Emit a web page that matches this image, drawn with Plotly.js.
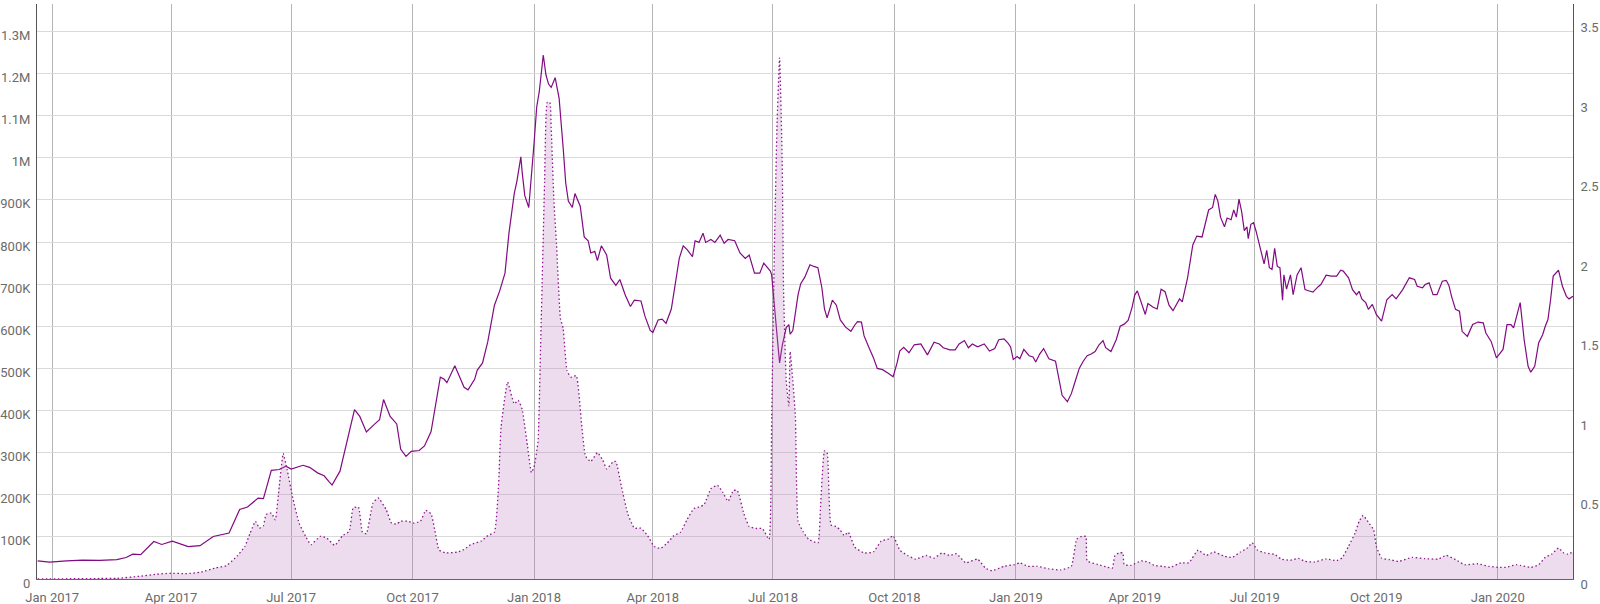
<!DOCTYPE html>
<html>
<head>
<meta charset="utf-8">
<script src="https://cdn.plot.ly/plotly-3.0.1.min.js"></script>
<style>html,body{margin:0;padding:0;background:#fff;}#chart{width:1600px;height:604px;}</style>
</head>
<body>
<div id="chart"></div>
<script>
// Solid line series (left axis)
const lineDates = ["2016-12-21","2016-12-30","2017-01-12","2017-01-24","2017-02-06","2017-02-19","2017-02-26","2017-03-03","2017-03-09","2017-03-19","2017-03-25","2017-04-02","2017-04-14","2017-04-23","2017-05-03","2017-05-15","2017-05-23","2017-05-29","2017-06-06","2017-06-10","2017-06-16","2017-06-22","2017-06-27","2017-07-01","2017-07-10","2017-07-15","2017-07-21","2017-07-26","2017-07-30","2017-08-01","2017-08-07","2017-08-13","2017-08-18","2017-08-22","2017-08-27","2017-09-02","2017-09-06","2017-09-09","2017-09-14","2017-09-19","2017-09-20","2017-09-22","2017-09-26","2017-09-30","2017-10-06","2017-10-10","2017-10-15","2017-10-19","2017-10-22","2017-10-25","2017-10-27","2017-11-02","2017-11-06","2017-11-09","2017-11-12","2017-11-17","2017-11-19","2017-11-23","2017-11-27","2017-12-02","2017-12-06","2017-12-10","2017-12-13","2017-12-17","2017-12-19","2017-12-22","2017-12-23","2017-12-25","2017-12-28","2017-12-30","2018-01-01","2018-01-03","2018-01-05","2018-01-08","2018-01-10","2018-01-12","2018-01-14","2018-01-17","2018-01-20","2018-01-23","2018-01-25","2018-01-27","2018-01-30","2018-02-01","2018-02-05","2018-02-08","2018-02-11","2018-02-13","2018-02-16","2018-02-18","2018-02-21","2018-02-25","2018-02-28","2018-03-04","2018-03-07","2018-03-11","2018-03-15","2018-03-18","2018-03-23","2018-03-26","2018-03-30","2018-04-01","2018-04-05","2018-04-08","2018-04-11","2018-04-15","2018-04-18","2018-04-21","2018-04-24","2018-04-27","2018-05-01","2018-05-03","2018-05-06","2018-05-09","2018-05-11","2018-05-15","2018-05-18","2018-05-22","2018-05-25","2018-05-28","2018-06-02","2018-06-06","2018-06-10","2018-06-13","2018-06-17","2018-06-21","2018-06-24","2018-06-29","2018-06-30","2018-07-02","2018-07-04","2018-07-06","2018-07-08","2018-07-11","2018-07-13","2018-07-14","2018-07-16","2018-07-20","2018-07-22","2018-07-25","2018-07-29","2018-08-01","2018-08-04","2018-08-07","2018-08-09","2018-08-11","2018-08-15","2018-08-18","2018-08-21","2018-08-25","2018-08-29","2018-09-01","2018-09-03","2018-09-06","2018-09-08","2018-09-12","2018-09-15","2018-09-18","2018-09-22","2018-09-26","2018-09-30","2018-10-03","2018-10-05","2018-10-08","2018-10-12","2018-10-16","2018-10-21","2018-10-26","2018-10-31","2018-11-04","2018-11-07","2018-11-12","2018-11-16","2018-11-19","2018-11-23","2018-11-26","2018-11-29","2018-12-03","2018-12-08","2018-12-12","2018-12-16","2018-12-19","2018-12-23","2018-12-26","2018-12-28","2018-12-30","2019-01-02","2019-01-04","2019-01-07","2019-01-11","2019-01-14","2019-01-16","2019-01-19","2019-01-22","2019-01-26","2019-01-31","2019-02-03","2019-02-05","2019-02-09","2019-02-12","2019-02-15","2019-02-18","2019-02-21","2019-02-24","2019-02-27","2019-03-02","2019-03-05","2019-03-08","2019-03-10","2019-03-14","2019-03-18","2019-03-21","2019-03-24","2019-03-27","2019-03-30","2019-04-01","2019-04-03","2019-04-06","2019-04-09","2019-04-11","2019-04-15","2019-04-18","2019-04-21","2019-04-24","2019-04-27","2019-04-30","2019-05-05","2019-05-07","2019-05-11","2019-05-15","2019-05-18","2019-05-22","2019-05-24","2019-05-27","2019-05-30","2019-06-01","2019-06-03","2019-06-05","2019-06-08","2019-06-10","2019-06-13","2019-06-15","2019-06-17","2019-06-19","2019-06-21","2019-06-23","2019-06-25","2019-06-26","2019-06-28","2019-06-30","2019-07-02","2019-07-04","2019-07-06","2019-07-08","2019-07-10","2019-07-12","2019-07-14","2019-07-16","2019-07-18","2019-07-20","2019-07-22","2019-07-23","2019-07-25","2019-07-28","2019-07-30","2019-08-02","2019-08-05","2019-08-07","2019-08-08","2019-08-10","2019-08-14","2019-08-18","2019-08-20","2019-08-24","2019-08-28","2019-09-01","2019-09-04","2019-09-06","2019-09-10","2019-09-13","2019-09-16","2019-09-18","2019-09-20","2019-09-23","2019-09-25","2019-09-28","2019-10-01","2019-10-05","2019-10-09","2019-10-13","2019-10-16","2019-10-21","2019-10-26","2019-10-30","2019-11-01","2019-11-05","2019-11-07","2019-11-10","2019-11-13","2019-11-16","2019-11-20","2019-11-23","2019-11-25","2019-11-27","2019-11-30","2019-12-03","2019-12-05","2019-12-09","2019-12-13","2019-12-17","2019-12-21","2019-12-23","2019-12-27","2019-12-31","2020-01-05","2020-01-08","2020-01-11","2020-01-13","2020-01-18","2020-01-21","2020-01-24","2020-01-26","2020-01-29","2020-02-01","2020-02-04","2020-02-06","2020-02-08","2020-02-10","2020-02-12","2020-02-16","2020-02-19","2020-02-22","2020-02-24","2020-02-27"];
const lineValuesK = [43,40,43,45,44,46,51,59,58,89,82,90,77,79,101,109,165,171,192,191,258,260,268,261,270,265,252,245,230,223,256,339,402,386,349,367,378,426,386,368,346,308,291,303,305,316,350,419,479,474,466,506,479,455,449,474,496,513,564,650,684,726,821,915,944,1002,966,910,882,949,1034,1120,1158,1244,1197,1175,1167,1190,1141,1026,940,897,882,915,885,812,803,774,778,756,791,769,714,697,711,675,647,662,660,624,590,585,615,617,607,641,701,761,791,782,765,803,799,821,799,806,799,816,797,806,803,774,761,769,726,726,750,731,722,641,581,513,554,597,604,581,590,675,701,716,746,742,739,692,641,620,662,650,615,598,588,603,611,610,577,547,526,500,497,489,480,513,541,550,537,556,558,532,562,558,549,544,544,558,566,549,558,551,558,541,547,568,570,560,551,521,528,523,545,530,527,515,534,547,523,517,470,436,421,440,470,500,517,530,534,540,556,566,549,540,568,600,605,614,645,674,684,654,628,654,645,641,688,682,650,637,665,658,714,793,814,812,838,876,882,913,897,859,836,857,853,876,859,902,872,827,836,808,842,846,825,799,778,748,780,739,735,785,742,739,662,722,688,722,675,722,739,705,687,685,681,694,699,721,719,719,733,731,715,687,675,683,665,656,640,652,628,612,663,675,665,687,715,711,695,691,699,703,675,675,707,709,697,671,640,636,588,576,604,610,608,584,564,525,545,604,604,596,656,568,505,491,505,561,580,600,616,663,719,733,695,671,665,671];

// Dotted area series (right axis)
const areaDates = ["2016-12-21","2017-02-06","2017-02-19","2017-03-08","2017-03-21","2017-03-31","2017-04-13","2017-04-23","2017-05-05","2017-05-13","2017-05-21","2017-05-27","2017-05-31","2017-06-04","2017-06-07","2017-06-10","2017-06-12","2017-06-16","2017-06-19","2017-06-22","2017-06-25","2017-06-28","2017-07-02","2017-07-07","2017-07-12","2017-07-16","2017-07-23","2017-07-28","2017-08-03","2017-08-09","2017-08-14","2017-08-17","2017-08-21","2017-08-24","2017-08-27","2017-09-01","2017-09-05","2017-09-11","2017-09-15","2017-09-19","2017-09-22","2017-09-27","2017-10-02","2017-10-07","2017-10-11","2017-10-15","2017-10-18","2017-10-21","2017-10-26","2017-11-04","2017-11-09","2017-11-14","2017-11-22","2017-11-27","2017-12-02","2017-12-05","2017-12-07","2017-12-12","2017-12-17","2017-12-20","2017-12-23","2017-12-27","2017-12-30","2018-01-01","2018-01-04","2018-01-06","2018-01-09","2018-01-11","2018-01-13","2018-01-14","2018-01-16","2018-01-18","2018-01-21","2018-01-23","2018-01-26","2018-01-29","2018-02-02","2018-02-06","2018-02-09","2018-02-13","2018-02-18","2018-02-22","2018-02-25","2018-03-02","2018-03-04","2018-03-08","2018-03-13","2018-03-18","2018-03-23","2018-03-28","2018-04-02","2018-04-07","2018-04-12","2018-04-17","2018-04-22","2018-04-27","2018-05-02","2018-05-07","2018-05-10","2018-05-15","2018-05-20","2018-05-24","2018-05-28","2018-06-01","2018-06-04","2018-06-09","2018-06-13","2018-06-18","2018-06-23","2018-06-28","2018-06-30","2018-07-02","2018-07-04","2018-07-06","2018-07-08","2018-07-09","2018-07-11","2018-07-13","2018-07-14","2018-07-16","2018-07-18","2018-07-20","2018-07-24","2018-07-28","2018-08-04","2018-08-06","2018-08-09","2018-08-11","2018-08-14","2018-08-18","2018-08-21","2018-08-24","2018-08-27","2018-09-01","2018-09-08","2018-09-15","2018-09-21","2018-09-26","2018-09-30","2018-10-05","2018-10-11","2018-10-17","2018-10-25","2018-10-31","2018-11-06","2018-11-12","2018-11-17","2018-11-24","2018-12-03","2018-12-09","2018-12-14","2018-12-23","2018-12-31","2019-01-04","2019-01-10","2019-01-17","2019-01-26","2019-02-04","2019-02-12","2019-02-16","2019-02-19","2019-02-23","2019-02-24","2019-03-04","2019-03-11","2019-03-15","2019-03-17","2019-03-20","2019-03-23","2019-03-24","2019-03-29","2019-04-06","2019-04-11","2019-04-16","2019-04-22","2019-04-28","2019-05-06","2019-05-12","2019-05-19","2019-05-25","2019-05-31","2019-06-08","2019-06-14","2019-06-20","2019-06-25","2019-06-29","2019-07-03","2019-07-09","2019-07-16","2019-07-21","2019-07-28","2019-08-03","2019-08-08","2019-08-15","2019-08-24","2019-09-01","2019-09-05","2019-09-10","2019-09-15","2019-09-18","2019-09-21","2019-09-25","2019-09-29","2019-10-01","2019-10-05","2019-10-11","2019-10-18","2019-10-28","2019-11-07","2019-11-17","2019-11-23","2019-11-30","2019-12-07","2019-12-17","2019-12-25","2020-01-02","2020-01-07","2020-01-15","2020-01-18","2020-01-26","2020-02-01","2020-02-06","2020-02-11","2020-02-16","2020-02-20","2020-02-23","2020-02-27"];
const areaValues = [0,0.003,0.004,0.017,0.03,0.036,0.034,0.042,0.07,0.084,0.143,0.206,0.29,0.363,0.32,0.336,0.405,0.415,0.373,0.583,0.79,0.688,0.52,0.352,0.268,0.216,0.268,0.258,0.212,0.273,0.3,0.447,0.453,0.294,0.285,0.478,0.51,0.436,0.352,0.346,0.364,0.364,0.352,0.364,0.432,0.41,0.3,0.182,0.164,0.17,0.186,0.216,0.239,0.273,0.295,0.568,0.955,1.239,1.102,1.125,1.068,0.84,0.67,0.705,0.864,1.477,2.5,3.0,3.0,2.84,2.39,2.11,1.64,1.58,1.31,1.27,1.28,0.977,0.773,0.739,0.795,0.75,0.693,0.739,0.739,0.59,0.41,0.32,0.32,0.273,0.205,0.193,0.227,0.273,0.295,0.375,0.443,0.455,0.47,0.568,0.59,0.545,0.489,0.557,0.557,0.41,0.33,0.318,0.318,0.25,1.02,2.05,2.84,3.28,2.61,1.82,1.25,1.09,1.43,1.25,1.02,0.364,0.295,0.25,0.227,0.455,0.807,0.795,0.34,0.33,0.307,0.273,0.295,0.2,0.164,0.17,0.239,0.25,0.273,0.182,0.148,0.125,0.148,0.132,0.164,0.148,0.159,0.102,0.125,0.068,0.052,0.08,0.091,0.102,0.08,0.08,0.064,0.057,0.08,0.25,0.266,0.268,0.114,0.091,0.075,0.068,0.148,0.164,0.164,0.091,0.086,0.114,0.107,0.085,0.08,0.073,0.102,0.102,0.182,0.148,0.17,0.143,0.136,0.17,0.193,0.227,0.182,0.164,0.155,0.125,0.118,0.13,0.111,0.107,0.126,0.115,0.132,0.206,0.29,0.363,0.4,0.357,0.31,0.206,0.132,0.122,0.111,0.136,0.128,0.126,0.149,0.122,0.09,0.096,0.08,0.073,0.073,0.09,0.086,0.073,0.09,0.136,0.157,0.195,0.164,0.157,0.17];

// Tick labels
const leftTickVals = [0,100000,200000,300000,400000,500000,600000,700000,800000,900000,1000000,1100000,1200000,1300000];
const leftTickText = ["0","100K","200K","300K","400K","500K","600K","700K","800K","900K","1M","1.1M","1.2M","1.3M"];
const rightTickVals = [0,0.5,1,1.5,2,2.5,3,3.5];
const rightTickText = ["0","0.5","1","1.5","2","2.5","3","3.5"];

const lineValues = lineValuesK.map(v => v * 1000);
const fontFam = "Roboto, 'Noto Sans', sans-serif";
const tickFont = {family: fontFam, size: 13, color: '#6b6b6b'};

const traces = [
  {
    x: areaDates, y: areaValues, yaxis: 'y2', type: 'scatter', mode: 'lines',
    line: {color: '#8b1a8b', width: 1.3, dash: '1.5px,2.5px', shape: 'spline', smoothing: 0.4},
    fill: 'tozeroy', fillcolor: 'rgba(180,120,190,0.26)',
    hoverinfo: 'skip', showlegend: false
  },
  {
    x: lineDates, y: lineValues, type: 'scatter', mode: 'lines',
    line: {color: '#820a82', width: 1.2},
    hoverinfo: 'skip', showlegend: false
  }
];

const layout = {
  width: 1600, height: 604,
  margin: {l: 37, r: 27, t: 4, b: 25, pad: 0},
  paper_bgcolor: '#ffffff', plot_bgcolor: '#ffffff',
  showlegend: false,
  xaxis: {
    type: 'date', range: ['2016-12-20 12:00', '2020-02-27'],
    tick0: '2017-01-01', dtick: 'M3', tickformat: '%b %Y',
    showgrid: true, gridcolor: '#b4b4b4', gridwidth: 1,
    showline: true, linecolor: '#666666', linewidth: 1,
    ticks: '', tickfont: tickFont, ticklabelstandoff: 6,
    zeroline: false, fixedrange: true
  },
  yaxis: {
    range: [0, 1365000], tickvals: leftTickVals, ticktext: leftTickText,
    showgrid: true, gridcolor: '#dadada', gridwidth: 1,
    showline: true, linecolor: '#555555', linewidth: 1,
    ticks: '', tickfont: tickFont, zeroline: false,
    ticklabelshift: 4, ticklabelstandoff: 3, fixedrange: true
  },
  yaxis2: {
    overlaying: 'y', side: 'right',
    range: [0, 3.619], tickvals: rightTickVals, ticktext: rightTickText,
    showgrid: false, showline: true, linecolor: '#555555', linewidth: 1,
    ticks: '', tickfont: tickFont, zeroline: false,
    ticklabelshift: 5, ticklabelstandoff: 4, fixedrange: true
  }
};

Plotly.newPlot('chart', traces, layout, {staticPlot: true, displayModeBar: false});
</script>
</body>
</html>
